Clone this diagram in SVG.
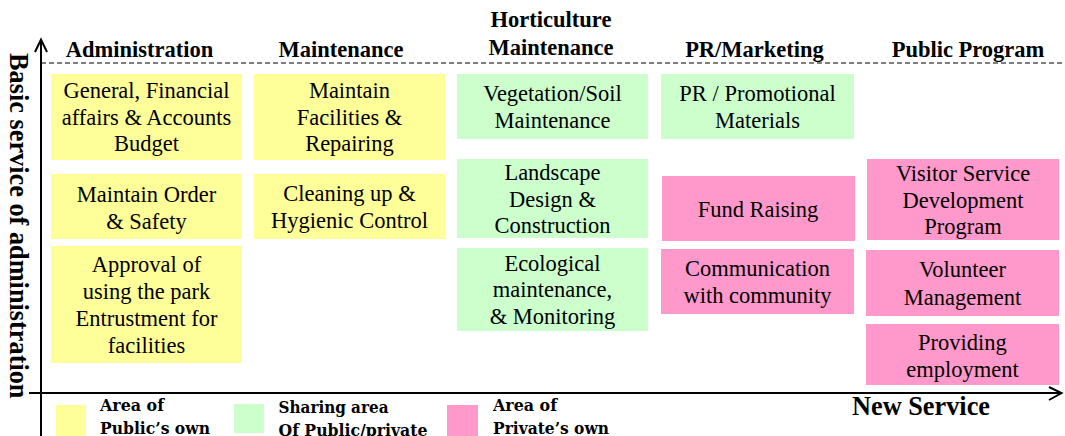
<svg xmlns="http://www.w3.org/2000/svg" width="1065" height="436" viewBox="0 0 1065 436">
<defs>
<style>
.bg{fill:#ffffff}
.y{fill:#FFFF99}
.g{fill:#CCFFCC}
.p{fill:#FF99CC}
.t{font-family:"Liberation Serif","Times New Roman",serif;font-size:22.5px;fill:#000;text-anchor:middle}
.h{font-family:"Liberation Serif","Times New Roman",serif;font-size:22.5px;font-weight:bold;fill:#000;text-anchor:middle}
.ax{font-family:"Liberation Serif","Times New Roman",serif;font-size:26.3px;font-weight:bold;fill:#000}
.lg{font-family:"DejaVu Serif Condensed","DejaVu Serif",serif;font-size:17px;font-weight:bold;fill:#000}
.axis{stroke:#000;stroke-width:2;fill:none}
.dash{stroke:#000;stroke-width:1.2;stroke-dasharray:5 3;fill:none}
</style>
</defs>
<rect class="bg" x="0" y="0" width="1065" height="436"/>

<g id="connectors">
<line class="dash" x1="41" y1="63" x2="1065" y2="63"/>
<line class="axis" x1="41" y1="40" x2="41" y2="436"/>
<polyline class="axis" points="35,52 41,39.5 47,52"/>
<line class="axis" x1="29" y1="393" x2="1061" y2="393"/>
<polyline class="axis" points="1049,387 1061.5,393 1049,400"/>
</g>

<g id="axis-labels">
<text class="ax" transform="translate(10,53) rotate(90)">Basic service of administration</text>
<text class="ax" x="852" y="415">New Service</text>
</g>

<g id="headers">
<text class="h" x="139.5" y="57">Administration</text>
<text class="h" x="341" y="57">Maintenance</text>
<text class="h" x="551" y="27">Horticulture</text>
<text class="h" x="551" y="55">Maintenance</text>
<text class="h" x="754.5" y="57">PR/Marketing</text>
<text class="h" x="968" y="57">Public Program</text>
</g>

<g id="general">
<rect class="y" x="51" y="74" width="191" height="86"/>
<text class="t" x="146.5" y="98">General, Financial</text>
<text class="t" x="146.5" y="125">affairs &amp; Accounts</text>
<text class="t" x="146.5" y="151">Budget</text>
</g>
<g id="order">
<rect class="y" x="51" y="174" width="191" height="65"/>
<text class="t" x="146.5" y="202">Maintain Order</text>
<text class="t" x="146.5" y="229">&amp; Safety</text>
</g>
<g id="approval">
<rect class="y" x="51" y="246" width="191" height="117"/>
<text class="t" x="146.5" y="272">Approval of</text>
<text class="t" x="146.5" y="299">using the park</text>
<text class="t" x="146.5" y="326">Entrustment for</text>
<text class="t" x="146.5" y="353">facilities</text>
</g>

<g id="facilities">
<rect class="y" x="254" y="74" width="191" height="86"/>
<text class="t" x="349.5" y="98">Maintain</text>
<text class="t" x="349.5" y="125">Facilities &amp;</text>
<text class="t" x="349.5" y="151">Repairing</text>
</g>
<g id="cleaning">
<rect class="y" x="254" y="174" width="191" height="65"/>
<text class="t" x="349.5" y="201">Cleaning up &amp;</text>
<text class="t" x="349.5" y="228">Hygienic Control</text>
</g>

<g id="vegetation">
<rect class="g" x="457" y="74" width="191" height="65"/>
<text class="t" x="552.5" y="101">Vegetation/Soil</text>
<text class="t" x="552.5" y="128">Maintenance</text>
</g>
<g id="landscape">
<rect class="g" x="457" y="159" width="191" height="79"/>
<text class="t" x="552.5" y="180">Landscape</text>
<text class="t" x="552.5" y="207">Design &amp;</text>
<text class="t" x="552.5" y="233">Construction</text>
</g>
<g id="ecological">
<rect class="g" x="457" y="248" width="191" height="83"/>
<text class="t" x="552.5" y="271">Ecological</text>
<text class="t" x="552.5" y="297">maintenance,</text>
<text class="t" x="552.5" y="324">&amp; Monitoring</text>
</g>

<g id="promotional">
<rect class="g" x="661" y="74" width="193" height="65"/>
<text class="t" x="757.5" y="101">PR / Promotional</text>
<text class="t" x="757.5" y="128">Materials</text>
</g>
<g id="fundraising">
<rect class="p" x="662" y="176" width="193" height="65"/>
<text class="t" x="758" y="217">Fund Raising</text>
</g>
<g id="communication">
<rect class="p" x="661" y="249" width="193" height="65"/>
<text class="t" x="757.5" y="276">Communication</text>
<text class="t" x="757.5" y="303">with community</text>
</g>

<g id="visitor">
<rect class="p" x="867" y="159" width="192" height="81"/>
<text class="t" x="963" y="181">Visitor Service</text>
<text class="t" x="963" y="208">Development</text>
<text class="t" x="963" y="234">Program</text>
</g>
<g id="volunteer">
<rect class="p" x="866" y="250" width="193" height="66"/>
<text class="t" x="962.5" y="277">Volunteer</text>
<text class="t" x="962.5" y="305">Management</text>
</g>
<g id="providing">
<rect class="p" x="866" y="324" width="193" height="61"/>
<text class="t" x="962.5" y="350">Providing</text>
<text class="t" x="962.5" y="377">employment</text>
</g>

<g id="legend-public">
<rect class="y" x="56" y="405" width="30" height="31"/>
<text class="lg" x="100" y="411" textLength="64" lengthAdjust="spacingAndGlyphs">Area of</text>
<text class="lg" x="100" y="434" textLength="110" lengthAdjust="spacingAndGlyphs">Public’s own</text>
</g>
<g id="legend-sharing">
<rect class="g" x="234" y="404" width="30" height="29"/>
<text class="lg" x="278.5" y="413" textLength="110" lengthAdjust="spacingAndGlyphs">Sharing area</text>
<text class="lg" x="278.5" y="436" textLength="149" lengthAdjust="spacingAndGlyphs">Of Public/private</text>
</g>
<g id="legend-private">
<rect class="p" x="447" y="405" width="31" height="31"/>
<text class="lg" x="493" y="411" textLength="64" lengthAdjust="spacingAndGlyphs">Area of</text>
<text class="lg" x="493" y="434" textLength="116" lengthAdjust="spacingAndGlyphs">Private’s own</text>
</g>
</svg>
